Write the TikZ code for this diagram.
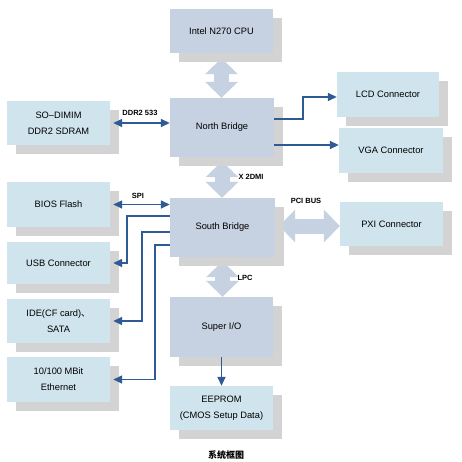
\documentclass[tikz,border=0pt]{standalone}
\usepackage{fontspec}
\setmainfont{Liberation Sans}
\newfontfamily\cjk{Noto Sans CJK SC}
\usetikzlibrary{arrows.meta,shadows}
\definecolor{chipblue}{RGB}{198,209,225}
\definecolor{partblue}{RGB}{207,228,236}
\definecolor{shadowgrey}{RGB}{211,211,211}
\definecolor{linkblue}{RGB}{46,90,150}
\pgfdeclarelayer{background}
\pgfsetlayers{background,main}
\begin{document}
\begin{tikzpicture}[x=1pt,y=-1pt,
  box/.style={minimum width=103pt,minimum height=44pt,inner sep=0pt,align=center,
    font=\fontsize{9.3}{16}\selectfont,
    general shadow={fill=shadowgrey,shadow xshift=9pt,shadow yshift=-9pt}},
  chip/.style={box,fill=chipblue},
  part/.style={box,fill=partblue},
  link/.style={draw=linkblue,line width=1.5pt,-{Triangle[length=9pt,width=8pt]}},
  dlink/.style={draw=linkblue,line width=1.5pt,{Triangle[length=9pt,width=8pt]}-{Triangle[length=9pt,width=8pt]}},
  fat/.style={draw=chipblue,line width=15pt,{Triangle[length=16pt,width=32pt]}-{Triangle[length=16pt,width=32pt]}},
  lbl/.style={font=\fontsize{7.5}{9}\selectfont\bfseries,inner sep=0pt}]
\useasboundingbox (0,0) rectangle (462,461);

% chips
\node[chip] (cpu) at (221.5,31) {Intel N270 CPU};
\node[chip,minimum width=104pt,minimum height=59pt] (nb) at (222,127.5) {North Bridge};
\node[chip,minimum width=105pt,minimum height=59pt] (sb) at (222.5,227.5) {South Bridge};
\node[chip,minimum height=60pt] (sio) at (221.5,327) {Super I/O};
\node[part] (eeprom) at (221.5,408) {EEPROM\\(CMOS Setup Data)};

% left parts
\node[part] (sodimm) at (58.5,123) {SO–DIMIM\\DDR2 SDRAM};
\node[part,minimum height=45pt] (bios) at (58.5,204.5) {BIOS Flash};
\node[part,minimum height=42pt] (usb) at (58.5,263) {USB Connector};
\node[part] (ide) at (58.5,321) {IDE(CF card){\cjk 、}\\SATA};
\node[part,minimum height=45pt] (eth) at (58.5,379.5) {10/100 MBit\\Ethernet};

% right parts
\node[part,minimum width=102pt,minimum height=45pt] (lcd) at (388,94.5) {LCD Connector};
\node[part,minimum width=104pt,minimum height=45pt] (vga) at (391,150.5) {VGA Connector};
\node[part] (pxi) at (391.5,224) {PXI Connector};

% fat bus arrows
\begin{pgfonlayer}{background}
\draw[fat] ([yshift=-5pt]cpu.south) -- (cpu.south |- nb.north);
\draw[fat] ([yshift=-4pt]nb.south) -- (nb.south |- sb.north);
\draw[fat] ([yshift=-4pt]sb.south) -- (sb.south |- sio.north);
\coordinate (sbp) at ([xshift=4pt,yshift=1.5pt]sb.east);
\draw[fat] (sbp) -- (sbp -| pxi.west);
\end{pgfonlayer}

% thin links
\draw[dlink] ([xshift=3pt]sodimm.east) -- (sodimm.east -| nb.west);
\draw[dlink] ([xshift=3pt]bios.east) -- (bios.east -| sb.west);
\coordinate (nbl) at ([yshift=8.5pt]nb.east);
\draw[link] (nbl) -- ++(29,0) |- ([yshift=-2.5pt]lcd.west);
\coordinate (nbv) at ([yshift=-17.5pt]nb.east);
\draw[link] (nbv) -- (nbv -| vga.west);
\coordinate (sbu) at ([yshift=11.5pt]sb.west);
\draw[link] (sbu) -| ([xshift=17pt]usb.east) -- ([xshift=3pt]usb.east);
\coordinate (sbi) at ([yshift=-4.5pt]sb.west);
\draw[link] (sbi) -| ([xshift=32pt]ide.east) -- ([xshift=3pt]ide.east);
\coordinate (sbe) at ([yshift=-17.5pt]sb.west);
\draw[link] (sbe) -| ([xshift=45pt]eth.east) -- ([xshift=3pt]eth.east);
\draw[link] (sio.south) -- (eeprom.north);

% labels
\node[lbl] (l1) at (140,113) {DDR2 533};
\node[lbl] (l2) at (138,196) {SPI};
\node[lbl] (l3) at (251,177) {X 2DMI};
\node[lbl] (l4) at (306,201) {PCI BUS};
\node[lbl] (l5) at (245,278) {LPC};
\node[font=\cjk\fontsize{9}{11}\selectfont\bfseries] (cap) at (226,455) {系统框图};
\end{tikzpicture}
\end{document}
